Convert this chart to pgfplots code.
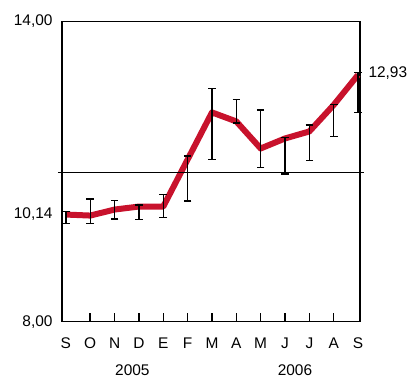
\documentclass[border=0pt]{standalone}
\usepackage{fontspec}
\setmainfont{Liberation Sans}
\usepackage{pgfplots}
\pgfplotsset{compat=1.18}
\usepackage{pgfplotstable}
\definecolor{linered}{RGB}{200,18,44}
\newcommand{\lblfont}{\fontsize{15.5}{17}\selectfont}

\pgfplotstableread{
x y ep em
0 10.14 0.06 0.18
1 10.12 0.33 0.16
2 10.24 0.18 0.19
3 10.30 0.03 0.26
4 10.30 0.24 0.22
5 11.24 0.07 0.83
6 12.18 0.48 0.94
7 12.00 0.44 0.03
8 11.46 0.77 0.38
9 11.66 0.02 0.71
10 11.80 0.13 0.58
11 12.33 0.01 0.63
12 12.93 0.05 0.75
}\datatable

\pgfplotstableread{
x y
-0.33 10.98
12.24 10.98
}\reftable

\begin{document}
\begin{tikzpicture}
\begin{axis}[
  at={(0,0)}, anchor=south west,
  scale only axis, width=298bp, height=300.4bp,
  xmin=-0.16, xmax=12.08, ymin=8, ymax=14,
  clip=false,
  axis line style={line width=1.5bp},
  xtick={0,...,12},
  xticklabels={S,O,N,D,E,F,M,A,M,J,J,A,S},
  major tick length=0pt,
  extra x ticks={1,...,11},
  extra x tick labels={},
  extra x tick style={major tick length=9bp, tick style={line width=1.5bp, black}},
  tick align=inside,
  tick pos=left,
  ytick={8,10.14,14},
  yticklabels={{8,00},{10,14},{14,00}},
  tick label style={font=\lblfont},
  xticklabel style={anchor=base, yshift=-27bp},
  yticklabel style={anchor=east, xshift=-6bp},
]
\addplot[linered, line width=6bp, line join=round, mark=none,
  error bars/.cd, y dir=both, y explicit,
  error bar style={black, line width=1.3bp},
  error mark options={rotate=90, black, mark size=3.8bp, line width=1.3bp}]
  table[x=x, y=y, y error plus=ep, y error minus=em] {\datatable};
\addplot[black, line width=1.5bp, mark=none, forget plot] table[x=x,y=y] {\reftable};
\node[anchor=west, font=\lblfont] at (axis cs:12.08,12.97) [xshift=5bp] {12,93};
\node[anchor=base, font=\lblfont] at (axis cs:2.73,8) [yshift=-54bp] {2005};
\node[anchor=base, font=\lblfont] at (axis cs:9.41,8) [yshift=-54bp] {2006};
\end{axis}
\pgfresetboundingbox
\path[use as bounding box] (-62bp,-57.3bp) rectangle (349bp,321.7bp);
\end{tikzpicture}
\end{document}
